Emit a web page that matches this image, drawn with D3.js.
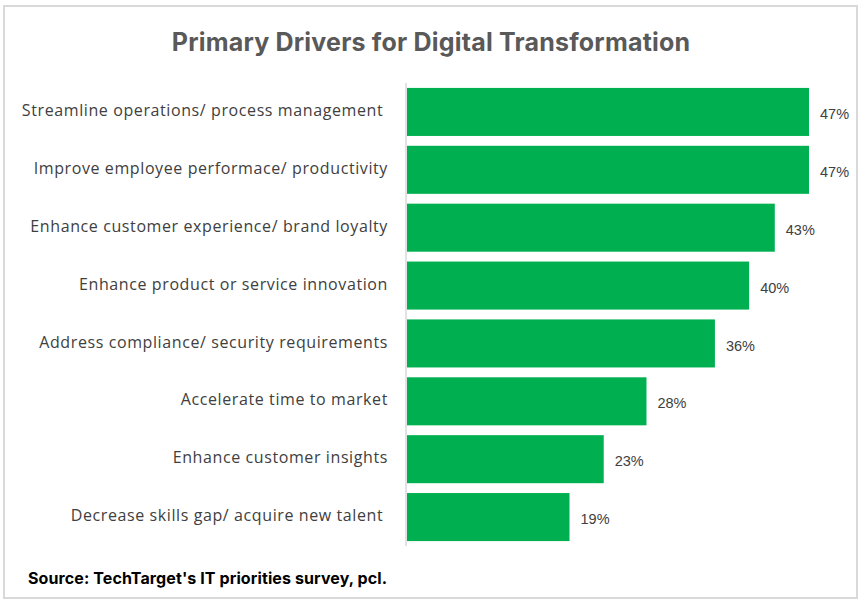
<!DOCTYPE html>
<html>
<head>
<meta charset="utf-8">
<script src="https://cdn.jsdelivr.net/npm/d3@7"></script>
<style>
  html, body { margin: 0; padding: 0; background: #fff; }
  text { white-space: pre; }
</style>
</head>
<body>
<div id="chart"></div>
<script>
// bar chart — primary drivers for digital transformation
const categories = [
  "Streamline operations/ process management ",
  "Improve employee performace/ productivity",
  "Enhance customer experience/ brand loyalty",
  "Enhance product or service innovation",
  "Address compliance/ security requirements",
  "Accelerate time to market",
  "Enhance customer insights",
  "Decrease skills gap/ acquire new talent "
];
const values = [47, 47, 43, 40, 36, 28, 23, 19];
const titleText = "Primary Drivers for Digital Transformation";
const sourceText = "Source: TechTarget's IT priorities survey, pcl.";

(function() {
  const width = 863, height = 603;
  const svg = d3.select("#chart").append("svg").attr("width", width).attr("height", height);

  // outer frame
  svg.append("rect").attr("x", 4).attr("y", 6).attr("width", 853).attr("height", 592)
    .attr("fill", "#fff").attr("stroke", "#d9d9d9").attr("stroke-width", 2);

  const x = d3.scaleLinear().domain([0, 47]).range([407, 809]);
  const y = d3.scaleBand().domain(categories).range([83, 546]).paddingInner(0.17).paddingOuter(0.085);

  const labelFont = "'Open Sans', 'DejaVu Sans', sans-serif";

  svg.append("text").attr("x", 431).attr("y", 51).attr("text-anchor", "middle")
    .attr("font-family", "Inter, 'Open Sans', sans-serif").attr("font-weight", 700)
    .attr("font-size", 25).attr("letter-spacing", 0.2).attr("fill", "#595959").text(titleText);

  svg.append("g").selectAll("rect").data(values).join("rect")
    .attr("x", x(0)).attr("y", (d, i) => y(categories[i]))
    .attr("width", d => x(d) - x(0)).attr("height", y.bandwidth())
    .attr("fill", "#00b050");

  // axis line
  svg.append("line").attr("x1", 406).attr("x2", 406).attr("y1", 83).attr("y2", 546)
    .attr("stroke", "#d9d9d9").attr("stroke-width", 1.5);

  svg.append("g").selectAll("text").data(categories).join("text")
    .attr("x", 388).attr("y", d => y(d) + y.bandwidth() / 2 - 1.5).attr("dy", "0.35em")
    .attr("text-anchor", "end").attr("font-family", labelFont).attr("font-size", 16)
    .attr("letter-spacing", 0.6).attr("fill", "#404040").text(d => d);

  svg.append("g").selectAll("text").data(values).join("text")
    .attr("x", d => x(d) + 11).attr("y", (d, i) => y(categories[i]) + y.bandwidth() / 2 + 2).attr("dy", "0.35em")
    .attr("font-family", "'Liberation Sans', 'Open Sans', sans-serif").attr("font-size", 14.5)
    .attr("fill", "#404040").text(d => d + "%");

  svg.append("text").attr("x", 28).attr("y", 584)
    .attr("font-family", "Inter, 'Open Sans', sans-serif").attr("font-weight", 700)
    .attr("font-size", 16).attr("letter-spacing", 0.1).attr("fill", "#000").text(sourceText);
})();
</script>
</body>
</html>
